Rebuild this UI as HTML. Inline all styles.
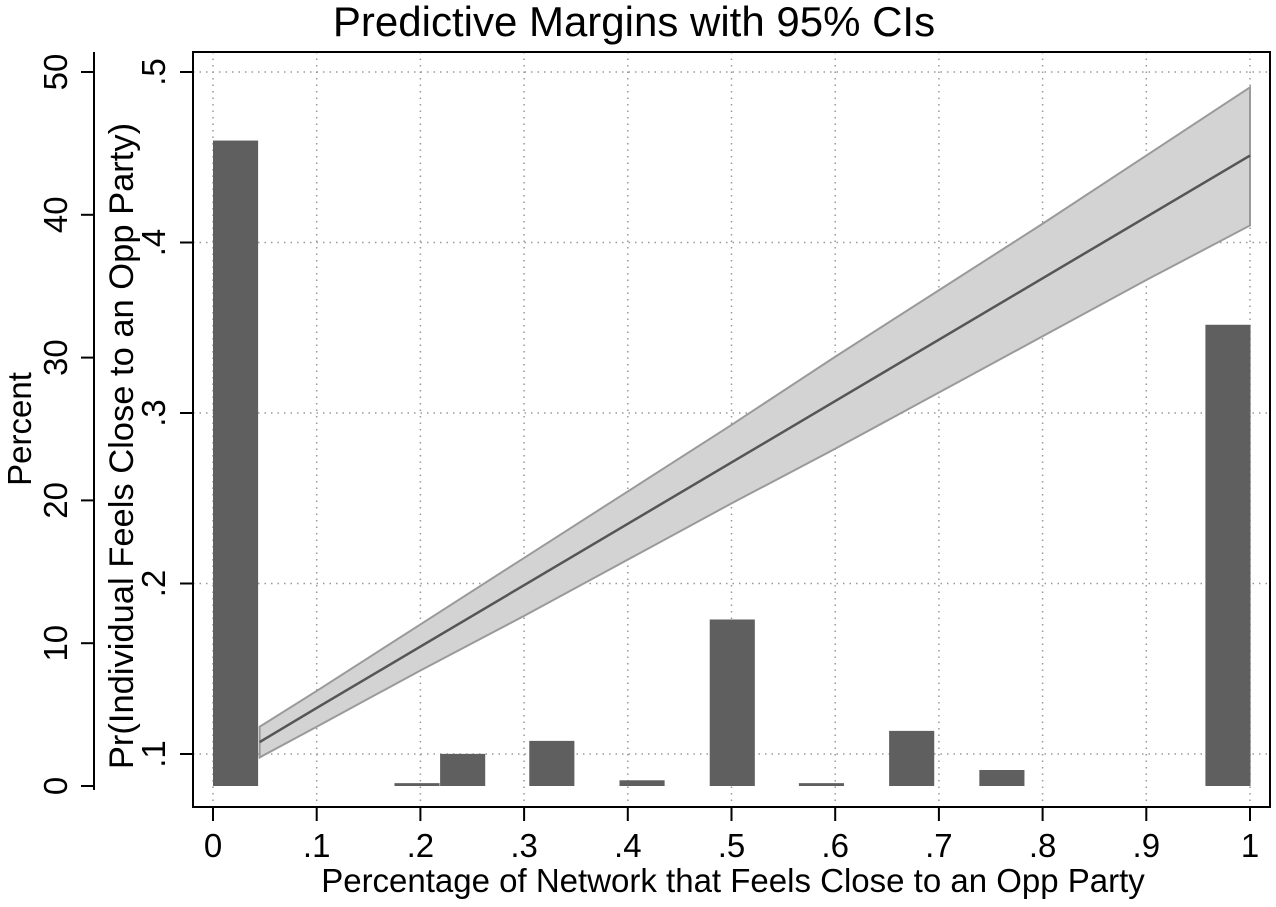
<!DOCTYPE html>
<html><head><meta charset="utf-8"><style>
html,body{margin:0;padding:0;background:#fff;}
svg text{font-family:"Liberation Sans",sans-serif;fill:#000;}
</style></head><body>
<svg id="chart" width="1276" height="902" viewBox="0 0 1276 902" xmlns="http://www.w3.org/2000/svg">
<rect x="0" y="0" width="1276" height="902" fill="#fff"/>
<text x="634" y="36" font-size="42" text-anchor="middle">Predictive Margins with 95% CIs</text>
<g id="grid"></g>
<g id="bars"></g>
<g id="band"></g>
<g id="axes"></g>
<text x="733" y="892" font-size="33" text-anchor="middle">Percentage of Network that Feels Close to an Opp Party</text>
<text transform="translate(31,429) rotate(-90)" font-size="33" text-anchor="middle">Percent</text>
<text transform="translate(133,446) rotate(-90)" font-size="34.5" text-anchor="middle">Pr(Individual Feels Close to an Opp Party)</text>
</svg>
<script>
const binStarts = [0.0, 0.175, 0.219, 0.305, 0.392, 0.479, 0.565, 0.652, 0.739, 0.957];
const binPercents = [45.2, 0.2, 2.25, 3.16, 0.4, 11.66, 0.2, 3.86, 1.12, 32.3];
const binWidth = 0.0435;
const marginX = [0.045, 0.1, 0.2, 0.3, 0.4, 0.5, 0.6, 0.7, 0.8, 0.9, 1.0];
const marginPred = [0.107, 0.127, 0.163, 0.199, 0.235, 0.271, 0.307, 0.343, 0.379, 0.415, 0.451];
const marginUpper = [0.116, 0.137, 0.176, 0.215, 0.254, 0.293, 0.333, 0.372, 0.411, 0.451, 0.491];
const marginLower = [0.098, 0.116, 0.149, 0.181, 0.214, 0.247, 0.279, 0.312, 0.345, 0.378, 0.410];
const xTicks = [0, 0.1, 0.2, 0.3, 0.4, 0.5, 0.6, 0.7, 0.8, 0.9, 1];
const xTickLabels = ["0", ".1", ".2", ".3", ".4", ".5", ".6", ".7", ".8", ".9", "1"];
const prTicks = [0.1, 0.2, 0.3, 0.4, 0.5];
const prTickLabels = [".1", ".2", ".3", ".4", ".5"];
const pctTicks = [0, 10, 20, 30, 40, 50];
const pctTickLabels = ["0", "10", "20", "30", "40", "50"];

const NS = "http://www.w3.org/2000/svg";
const PL = 193, PR = 1270, PT = 52, PB = 807;
function xs(v){ return 213 + v * 1037; }
function ypr(v){ return 72 + (0.5 - v) * 1705; }
function ypct(v){ return 786 - v * 14.28; }
function mk(tag, attrs, parent){ const e = document.createElementNS(NS, tag); for (const k in attrs) e.setAttribute(k, attrs[k]); parent.appendChild(e); return e; }

const grid = document.getElementById('grid');
xTicks.forEach(t => {
  const l = mk('line', {x1: xs(t), x2: xs(t), y1: PT, y2: PB, stroke: '#999', 'stroke-width': 1.5, 'stroke-dasharray': '1.5 5'}, grid);
  
  
});
prTicks.forEach(t => {
  const l = mk('line', {x1: PL, x2: PR, y1: ypr(t), y2: ypr(t), stroke: '#999', 'stroke-width': 1.5, 'stroke-dasharray': '1.5 5'}, grid);
  
  
});

const bars = document.getElementById('bars');
binStarts.forEach((s, i) => {
  const y = ypct(binPercents[i]);
  const r = mk('rect', {x: xs(s), y: y, width: xs(s + binWidth) - xs(s), height: Math.max(ypct(0) - y, 1), fill: '#5f5f5f'}, bars);
  
  
});

const band = document.getElementById('band');
let d = '';
marginX.forEach((x, i) => { d += (i ? 'L' : 'M') + xs(x) + ',' + ypr(marginUpper[i]); });
for (let i = marginX.length - 1; i >= 0; i--) d += 'L' + xs(marginX[i]) + ',' + ypr(marginLower[i]);
d += 'Z';
const area = mk('path', {d: d, fill: '#d3d3d3', stroke: '#9a9a9a', 'stroke-width': 2}, band);


const pts = marginX.map((x, i) => xs(x) + ',' + ypr(marginPred[i])).join(' ');
const line = mk('polyline', {points: pts, fill: 'none', stroke: '#555', 'stroke-width': 2.5}, band);



const axes = document.getElementById('axes');
const frame = mk('rect', {x: PL, y: PT, width: PR - PL, height: PB - PT, fill: 'none', stroke: '#000', 'stroke-width': 2}, axes);


xTicks.forEach((t, i) => {
  const l = mk('line', {x1: xs(t), x2: xs(t), y1: PB, y2: PB + 14, stroke: '#000', 'stroke-width': 2}, axes);
  
  
  const tx = mk('text', {x: xs(t), y: 857, 'font-size': 33, 'text-anchor': 'middle'}, axes);
  tx.textContent = xTickLabels[i];
  
  
});
prTicks.forEach((t, i) => {
  const l = mk('line', {x1: PL - 13, x2: PL, y1: ypr(t), y2: ypr(t), stroke: '#000', 'stroke-width': 2}, axes);
  
  
  const tx = mk('text', {transform: 'translate(' + 165 + ',' + ypr(t) + ') rotate(-90)', 'font-size': 33, 'text-anchor': 'middle'}, axes);
  tx.textContent = prTickLabels[i];
  
  
});
const pAxis = mk('line', {x1: 94, x2: 94, y1: 52, y2: 790, stroke: '#000', 'stroke-width': 2}, axes);


pctTicks.forEach((t, i) => {
  const l = mk('line', {x1: 81, x2: 94, y1: ypct(t), y2: ypct(t), stroke: '#000', 'stroke-width': 2}, axes);
  
  
  const tx = mk('text', {transform: 'translate(' + 67 + ',' + ypct(t) + ') rotate(-90)', 'font-size': 33, 'text-anchor': 'middle'}, axes);
  tx.textContent = pctTickLabels[i];
  
  
});
</script>
</body></html>
